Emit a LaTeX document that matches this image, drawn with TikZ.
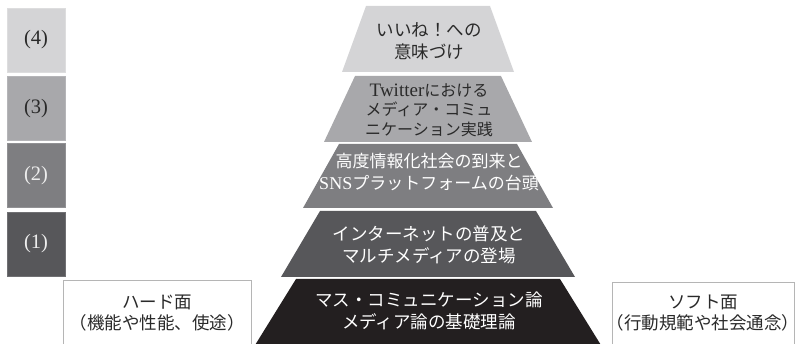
\documentclass[tikz,border=0pt]{standalone}
\usepackage{fontspec}
\setmainfont{Liberation Serif}
\newfontfamily\jp{Noto Sans CJK JP}
\definecolor{gfour}{HTML}{D4D4D6}
\definecolor{gthree}{HTML}{A8A8AB}
\definecolor{gtwo}{HTML}{7E7E81}
\definecolor{gone}{HTML}{57575A}
\definecolor{gzero}{HTML}{231F20}
\definecolor{txtdark}{HTML}{2A2A2A}
\definecolor{txtlight}{HTML}{EDEDED}
\definecolor{boxgray}{HTML}{B5B5B5}
\newcommand\pyrlayer[5]{%
  \fill[#5] ({428-#3},#1) -- ({428+#3},#1) -- ({428+#4},#2) -- ({428-#4},#2) -- cycle;}
\tikzset{
  lbl/.style={inner sep=0pt, align=center, font=\fontsize{17.5}{22}\selectfont\jp},
  sq/.style={minimum width=58pt, minimum height=64pt, inner sep=0pt, font=\fontsize{20.5}{22}\selectfont},
  sidebox/.style={draw=boxgray, line width=0.8pt, fill=white},
}
\begin{document}
\begin{tikzpicture}[x=1pt,y=-1pt]
\useasboundingbox (0,0) rectangle (798,344);
\clip (0,0) rectangle (798,344);
% pyramid layers
\pyrlayer{6}{72}{62}{86}{gfour}
\pyrlayer{76}{142}{73}{104}{gthree}
\pyrlayer{144}{208}{89}{125}{gtwo}
\pyrlayer{211}{277}{108}{147}{gone}
\pyrlayer{279}{350}{132}{176}{gzero}
% layer texts
\node[lbl, text=txtdark] (t4) at (429,41) {いいね！への\\意味づけ};
\node[lbl, text=txtdark, font=\fontsize{16}{19.5}\selectfont\jp] (t3) at (429,110) {{\rmfamily\fontsize{19}{19.5}\selectfont Twitter}における\\メディア・コミュ\\ニケーション実践};
\node[lbl, text=white, font=\fontsize{17}{22}\selectfont\jp] (t2) at (429,172) {高度情報化社会の到来と\\{\rmfamily\fontsize{18}{22}\selectfont SNS}プラットフォームの台頭};
\node[lbl, text=white] (t1) at (429,245) {インターネットの普及と\\マルチメディアの登場};
\node[lbl, text=white] (t0) at (429,311) {マス・コミュニケーション論\\メディア論の基礎理論};
% left squares
\node[sq, fill=gfour, draw=gfour!80!white, text=txtdark] (s4) at (36,40) {(4)};
\node[sq, fill=gthree, draw=gthree!85!white, text=txtdark] (s3) at (36,108.5) {(3)};
\node[sq, fill=gtwo, draw=gtwo!85!white, text=txtlight] (s2) at (36,175.5) {(2)};
\node[sq, fill=gone, draw=gone!85!white, text=txtlight] (s1) at (36,244) {(1)};
% side boxes
\draw[sidebox] (63,280) rectangle (251,360);
\node[lbl, text=txtdark, font=\fontsize{17.5}{21}\selectfont\jp] (hard) at (157,313) {ハード面\\（機能や性能、使途）};
\draw[sidebox] (612,282) rectangle (794,360);
\node[lbl, text=txtdark, font=\fontsize{17.5}{21}\selectfont\jp] (soft) at (703,313) {ソフト面\\（行動規範や社会通念）};
\end{tikzpicture}
\end{document}
